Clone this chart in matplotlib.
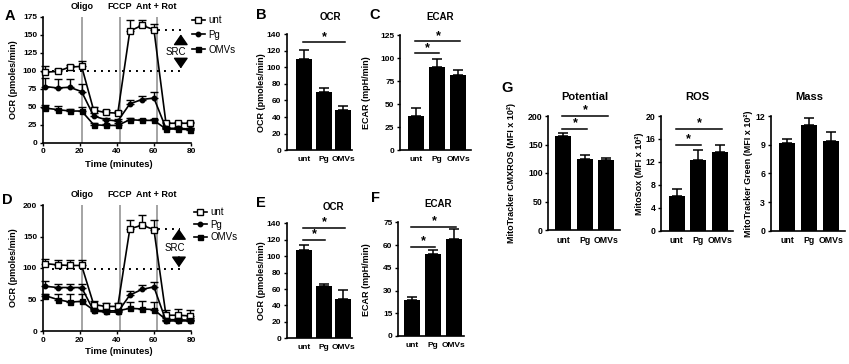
import matplotlib
matplotlib.use("Agg")
import matplotlib.pyplot as plt
from matplotlib.lines import Line2D
import numpy as np

plt.rcParams['font.family'] = ['Liberation Sans', 'DejaVu Sans']
plt.rcParams['font.weight'] = 'bold'

W, H = 849, 364

# ---------------- data ----------------
times = [1.5, 8, 14.5, 21, 27.5, 34, 40.5, 47, 53.5, 60, 66.5, 73, 79.5]
injections = [21, 41.5, 61.5]
injection_labels = ["Oligo", "FCCP", "Ant + Rot"]
groups = ["unt", "Pg", "OMVs"]

unt_A = [98, 99, 105, 106, 45, 42, 41, 155, 163, 157, 27, 27, 27]
unt_A_err = [8, 3, 3, 7, 4, 3, 3, 15, 8, 8, 2, 2, 2]
pg_A = [78, 76, 77, 71, 37, 32, 30, 54, 60, 62, 20, 20, 19]
pg_A_err = [12, 12, 11, 11, 4, 3, 3, 5, 5, 9, 2, 2, 2]
omv_A = [48, 46, 44, 44, 25, 24, 24, 32, 31, 31, 19, 19, 18]
omv_A_err = [4, 5, 3, 5, 2, 2, 3, 2, 2, 2, 2, 2, 2]

unt_D = [107, 105, 104, 104, 42, 39, 39, 162, 168, 161, 25, 25, 24]
unt_D_err = [7, 7, 8, 9, 6, 6, 6, 14, 16, 15, 8, 10, 9]
pg_D = [71, 69, 69, 69, 32, 30, 30, 57, 66, 70, 16, 16, 16]
pg_D_err = [8, 6, 5, 5, 3, 3, 3, 7, 7, 7, 2, 2, 2]
omv_D = [56, 50, 46, 47, 33, 32, 32, 36, 35, 34, 18, 18, 17]
omv_D_err = [3, 9, 12, 12, 2, 2, 2, 10, 12, 12, 3, 3, 3]

ocr_B = [110, 70, 48]
ocr_B_err = [11, 5, 5]
ecar_C = [37, 90, 82]
ecar_C_err = [9, 9, 5]
ocr_E = [107, 64, 48]
ocr_E_err = [6, 1.5, 11]
ecar_F = [23.5, 54, 64]
ecar_F_err = [2, 2.5, 6.5]
potential = [165, 124, 123]
potential_err = [6, 7, 3]
ros = [6.1, 12.4, 13.7]
ros_err = [1.1, 1.7, 1.2]
mass = [9.2, 11.1, 9.35]
mass_err = [0.35, 0.7, 0.95]

fig = plt.figure(figsize=(W / 100, H / 100), dpi=100)


def ax_px(left, top, right, bottom):
    return fig.add_axes([left / W, 1 - bottom / H, (right - left) / W, (bottom - top) / H])


def style(ax):
    for s in ['top', 'right']:
        ax.spines[s].set_visible(False)
    for s in ['left', 'bottom']:
        ax.spines[s].set_linewidth(1.2)
    ax.tick_params(length=2.5, width=1, labelsize=6, pad=1.5)
    for lab in ax.get_xticklabels() + ax.get_yticklabels():
        lab.set_fontweight('bold')


def ylabel_at(ax, text, xc, left, right, size=6.5):
    ax.set_ylabel(text, fontsize=size, fontweight='bold')
    ax.yaxis.set_label_coords((xc + 4.5 - left) / (right - left), 0.5)


def ftext(x, y, s, size, **kw):
    fig.text(x / W, 1 - y / H, s, fontsize=size, fontweight='bold', ha='center', va='center', **kw)


# -------------- time course panels --------------
def seahorse(box, ymax, ystep, series, dots, src, leg, ylab_x, xlab_y, lab_y):
    left, top, right, bottom = box
    ax = ax_px(left, top, right, bottom)
    for xi in injections:
        ax.axvline(xi, color='#8c8c8c', lw=1.1, zorder=1)
    (y0, x0a, x0b), (y1, x1a, x1b) = dots
    ax.plot([x0a, x0b], [y0, y0], color='black', lw=1.4, ls=(0, (1, 2.6)), zorder=1)
    ax.plot([x1a, x1b], [y1, y1], color='black', lw=1.4, ls=(0, (1, 2.6)), zorder=1)
    handles = []
    for vals, err, mk, ms, mfc, name in series:
        ax.errorbar(times, vals, yerr=[np.zeros(len(err)), err], fmt='none', ecolor='black',
                    elinewidth=1, capsize=2.6, capthick=1, zorder=3, clip_on=False)
        ax.plot(times, vals, color='black', lw=1.2, marker=mk, ms=ms, mfc=mfc,
                mec='black', mew=1, zorder=4, clip_on=False)
        handles.append(Line2D([], [], color='black', lw=1.2, marker=mk, ms=ms, mfc=mfc,
                              mec='black', mew=1))
    sx, sy, ax_x, up_from, up_to, dn_from, dn_to = src
    ax.text(sx, sy, "SRC", fontsize=7, fontweight='normal', ha='center', va='center')
    arrow = dict(arrowstyle='-|>,head_length=0.65,head_width=0.45',
                 color='black', lw=1, shrinkA=0, shrinkB=0)
    ax.annotate('', xy=(ax_x, up_to), xytext=(ax_x, up_from), arrowprops=arrow)
    ax.annotate('', xy=(ax_x, dn_to), xytext=(ax_x, dn_from), arrowprops=arrow)
    ax.set_xlim(0, 80)
    ax.set_ylim(0, ymax)
    ax.set_xticks([0, 20, 40, 60, 80])
    ax.set_yticks(np.arange(0, ymax + 1, ystep))
    style(ax)
    for xi, s in zip(injections, injection_labels):
        ax.annotate(s, xy=(xi, 1), xycoords=('data', 'axes fraction'),
                    xytext=(0, lab_y), textcoords='offset points',
                    ha='center', va='center', fontsize=6.5, fontweight='bold')
    ylabel_at(ax, "OCR (pmoles/min)", ylab_x, left, right)
    ftext((left + right) / 2 + 2, xlab_y, "Time (minutes)", 6.8)
    lx, ly, lsp = leg
    fig.legend(handles, groups, loc='upper left', bbox_to_anchor=(lx / W, 1 - ly / H),
               frameon=False, handlelength=1.35, handletextpad=0.4,
               labelspacing=lsp, borderpad=0, borderaxespad=0,
               prop={'weight': 'normal', 'size': 7})
    return ax


seahorse((42.7, 16.7, 191, 142.7), 175, 25,
         [(unt_A, unt_A_err, 's', 4.3, 'white', 'unt'),
          (pg_A, pg_A_err, 'o', 3.2, 'black', 'Pg'),
          (omv_A, omv_A_err, 's', 3.6, 'black', 'OMVs')],
         [(99, 5, 76), (157, 62, 76)],
         (72, 126, 74.5, 138, 150.5, 115.5, 103),
         (191.5, 15, 0.5), 13, 165, 7.5)

seahorse((42.7, 205, 191, 331), 200, 50,
         [(unt_D, unt_D_err, 's', 4.3, 'white', 'unt'),
          (pg_D, pg_D_err, 'o', 3.2, 'black', 'Pg'),
          (omv_D, omv_D_err, 's', 3.6, 'black', 'OMVs')],
         [(98, 5, 74), (162, 62, 74)],
         (71, 132, 73.5, 146, 162, 118, 101),
         (193.5, 207, 0.28), 13.3, 352, 7.5)


# -------------- bar panels --------------
def bars(spine_x, top, bottom, first_c, spacing, right, ymax, ystep, vals, err, sigs,
         title, title_xy, title_size, ylab, ylab_x, tick_size=6):
    xl = -(first_c - spine_x) / spacing
    xr = (right - first_c) / spacing
    ax = ax_px(spine_x, top, right, bottom)
    x = np.arange(3)
    ax.bar(x, vals, width=16 / spacing, color='black', zorder=2)
    ax.errorbar(x, vals, yerr=[np.zeros(3), err], fmt='none', ecolor='black', elinewidth=1.1,
                capsize=3.5, capthick=1.1, zorder=3)
    for i, j, yv in sigs:
        ax.plot([i - 0.05, j + 0.1], [yv, yv], color='black', lw=1.1, clip_on=False)
        ax.annotate('*', xy=((i + j) / 2 + 0.05, yv), xytext=(0, -0.3), textcoords='offset points',
                    ha='center', va='bottom', fontsize=9, fontweight='bold', annotation_clip=False)
    ax.set_xlim(xl, xr)
    ax.set_ylim(0, ymax)
    ax.set_yticks(np.arange(0, ymax + ystep / 2, ystep))
    ax.set_xticks(x)
    ax.set_xticklabels(groups)
    style(ax)
    ax.tick_params(axis='x', length=0, pad=4, labelsize=tick_size)
    ax.tick_params(axis='y', labelsize=tick_size)
    ftext(title_xy[0], title_xy[1], title, title_size)
    ylabel_at(ax, ylab, ylab_x, spine_x, right)
    return ax


bars(286.7, 34, 150.3, 304, 19.5, 352, 140, 20, ocr_B, ocr_B_err, [(0, 2, 130)],
     "OCR", (330, 17.5), 7, "OCR (pmoles/min)", 261.7)
bars(400, 35, 150.3, 416, 21, 471, 125, 25, ecar_C, ecar_C_err, [(0, 1, 105), (0, 2, 118)],
     "ECAR", (440, 17), 7, "ECAR (mpH/min)", 366.7)
bars(286.7, 223.3, 338.3, 304, 19.5, 352, 140, 20, ocr_E, ocr_E_err, [(0, 1, 120), (0, 2, 134)],
     "OCR", (333, 206.7), 7, "OCR (pmoles/min)", 261.7)
bars(398, 222.3, 336, 412, 21, 464, 75, 15, ecar_F, ecar_F_err, [(0, 1, 59), (0, 2, 72)],
     "ECAR", (438, 203.7), 7, "ECAR (mpH/min)", 366.7)

bars(548.3, 116, 230, 563, 21.6, 620, 200, 50, potential, potential_err,
     [(0, 1, 178), (0, 2, 200)], "Potential", (585, 97), 8,
     "MitoTracker CMXROS (MFI x 10²)", 511.7, tick_size=6.3)
bars(661, 116, 230.7, 676.7, 21.7, 733, 20, 4, ros, ros_err,
     [(0, 1, 14.9), (0, 2, 17.7)], "ROS", (697.7, 96.7), 8,
     "MitoSox (MFI x 10²)", 640, tick_size=6.3)
bars(770.7, 116, 230.7, 787, 21.8, 845, 12, 3, mass, mass_err,
     [], "Mass", (809, 96.7), 8,
     "MitoTracker Green (MFI x 10²)", 748.3, tick_size=6.3)

# panel letters
for s, x, y in [("A", 10, 16), ("B", 261.7, 14.7), ("C", 374.7, 14.7),
                ("D", 7.5, 200), ("E", 261, 202.7), ("F", 376, 198), ("G", 507, 88)]:
    ftext(x, y, s, 10.5)

fig.savefig("out.png", dpi=100)
